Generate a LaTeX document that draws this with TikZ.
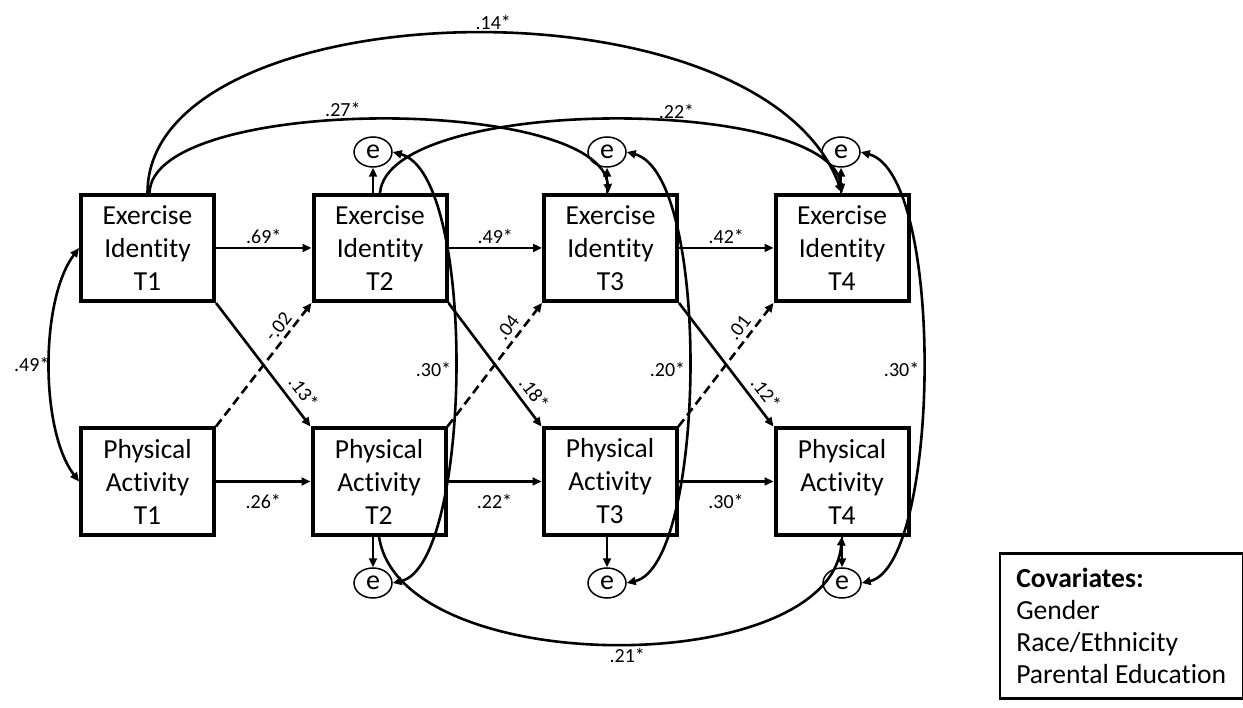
\documentclass[tikz,border=0pt]{standalone}
\usepackage{fontspec}
\setmainfont{Carlito}[Ligatures=NoCommon]
\usetikzlibrary{arrows.meta,shapes.geometric}
\begin{document}
\begin{tikzpicture}[x=1pt,y=-1pt,
  box/.style={draw, line width=4pt, minimum width=133pt, minimum height=106pt, align=center, inner sep=0pt, font=\fontsize{27.5}{33}\selectfont},
  err/.style={draw, ellipse, line width=1.5pt, minimum width=38pt, minimum height=30pt, inner sep=0pt, font=\fontsize{28}{30}\selectfont},
  tip/.tip={Triangle[length=9pt,width=8pt]},
  conn/.style={line width=2.6pt, -tip},
  biconn/.style={line width=2.6pt, tip-tip},
  dashconn/.style={conn, dash pattern=on 9pt off 5pt},
  lab/.style={font=\fontsize{20}{22}\selectfont, inner sep=1pt}
]
\useasboundingbox (0,0) rectangle (1243,708);

% boxes
\node[box] (ei1) at (147.5,248) {Exercise\\Identity\\T1};
\node[box] (ei2) at (380,248) {Exercise\\Identity\\T2};
\node[box] (ei3) at (610.5,248) {Exercise\\Identity\\T3};
\node[box] (ei4) at (842,248) {Exercise\\Identity\\T4};
\node[box] (pa1) at (147.5,481.5) {Physical\\Activity\\T1};
\node[box] (pa2) at (379,481.5) {Physical\\Activity\\T2};
\node[box] (pa3) at (610,481.5) {Physical\\Activity\\T3};
\node[box] (pa4) at (842,481.5) {Physical\\Activity\\T4};

% residuals
\node[err] (e2t) at (373,152) {e};
\node[err] (e3t) at (607,152) {e};
\node[err] (e4t) at (841,152) {e};
\node[err] (e2b) at (373,583) {e};
\node[err] (e3b) at (607,583) {e};
\node[err] (e4b) at (842,583) {e};

% covariates
\node[draw, line width=2.5pt, anchor=north west, minimum height=145pt, minimum width=243pt, inner xsep=12pt, align=left, font=\fontsize{27.6}{32}\selectfont] (cov) at (998.5,552) {\textbf{Covariates:}\\Gender\\Race/Ethnicity\\Parental Education};

% autoregressive paths
\draw[conn] (ei1) -- (ei2) node[lab,midway,above=2pt] {.69*};
\draw[conn] (ei2) -- (ei3) node[lab,midway,above=2pt] {.49*};
\draw[conn] (ei3) -- (ei4) node[lab,midway,above=2pt] {.42*};
\draw[conn] (pa1) -- (pa2) node[lab,midway,below=11pt] {.26*};
\draw[conn] (pa2) -- (pa3) node[lab,midway,below=11pt] {.22*};
\draw[conn] (pa3) -- (pa4) node[lab,midway,below=11pt] {.30*};

% cross-lagged paths
\draw[conn] (ei1.south east) -- (pa2.north west) node[lab,pos=.8,sloped,above=6pt] {.13*};
\draw[conn] (ei2.south east) -- (pa3.north west) node[lab,pos=.8,sloped,above=5pt] {.18*};
\draw[conn] (ei3.south east) -- (pa4.north west) node[lab,pos=.8,sloped,above=5pt] {.12*};
\draw[dashconn] (pa1.north east) -- (ei2.south west) node[lab,pos=.75,sloped,above=3pt] {-.02};
\draw[dashconn] (pa2.north east) -- (ei3.south west) node[lab,pos=.74,sloped,above=3.5pt] {.04};
\draw[dashconn] (pa3.north east) -- (ei4.south west) node[lab,pos=.74,sloped,above=3.5pt] {.01};

% residual arrows
\draw[conn] (e2t |- ei2.north) -- (e2t.south);
\draw[conn] (e3t |- ei3.north) -- (e3t.south);
\draw[conn] (e4t |- ei4.north) -- (e4t.south);
\draw[conn] (e2b |- pa2.south) -- (e2b.north);
\draw[conn] (e3b |- pa3.south) -- (e3b.north);
\draw[conn] (e4b |- pa4.south) -- (e4b.north);

% longer lags
\draw[conn] (ei1.north) .. controls (147,-10) and (760,-30) .. (ei4.north) node[lab,pos=.53,above=1pt] {.14*};
\draw[conn] ([xshift=2pt]ei1.north) .. controls (152,95) and (600,95) .. ([xshift=-2pt]ei3.north) node[lab,pos=.45,above=1pt] {.27*};
\draw[conn] (ei2.north) .. controls (388,95) and (830,95) .. (ei4.north) node[lab,pos=.6,above=1pt] {.22*};
\draw[conn] (pa2.south) .. controls (400,680) and (830,680) .. (pa4.south) node[lab,pos=.52,below=2pt] {.21*};

% correlations
\draw[biconn] (ei1.west) .. controls (40,300) and (40,430) .. (pa1.west) node[lab,pos=.5,left=-2pt] {.49*};
\draw[biconn] (e2t.east) .. controls (478,175) and (472,565) .. (e2b.east) node[lab,pos=.5,left=1pt] {.30*};
\draw[biconn] (e3t.east) .. controls (712,175) and (706,565) .. (e3b.east) node[lab,pos=.5,left=1pt] {.20*};
\draw[biconn] (e4t.east) .. controls (946,175) and (940,565) .. (e4b.east) node[lab,pos=.5,left=1pt] {.30*};
\end{tikzpicture}
\end{document}
